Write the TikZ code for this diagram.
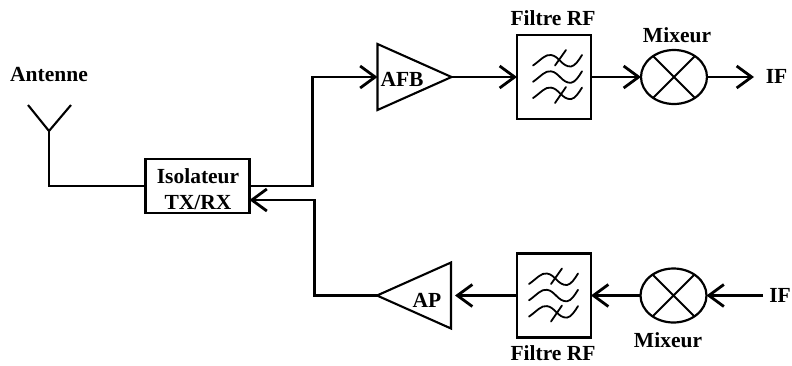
\documentclass[tikz,border=0pt]{standalone}
\usepackage{fontspec}
\setmainfont{Liberation Serif}
\usetikzlibrary{arrows.meta,shapes.geometric}
\tikzset{
  x=1pt,y=-1pt,
  every node/.style={font=\bfseries\fontsize{21.5}{26}\selectfont,inner sep=0pt,outer sep=0pt},
  wire/.style={line width=2.1pt,line join=miter},
  sig/.style={line width=2.8pt,line join=miter},
  arr/.style={sig,-{Straight Barb[length=15pt,width=22pt,line width=2.8pt]}},
  boxs/.style={draw,line width=2.2pt,rectangle,anchor=center},
  ampli/.style={draw,line width=2.1pt,isosceles triangle,isosceles triangle stretches,minimum width=66pt,minimum height=74pt},
  mix/.style={draw,line width=2.2pt,ellipse,minimum width=66pt,minimum height=54pt},
  txt/.style={anchor=center},
  wave/.style={line width=1.8pt,line cap=round},
  filt/.pic={
    \foreach \dy in {0,16.3,32.6}{
      \draw[wave] (-21,-11.5+\dy) .. controls (-13,-17+\dy) and (-9,-23+\dy) .. (-3,-22+\dy)
        .. controls (5,-21+\dy) and (8,-10+\dy) .. (17,-10.5+\dy)
        .. controls (21,-11+\dy) and (25,-17+\dy) .. (28,-22+\dy);
    }
    \draw[wave] (1,-11.5) -- (12,-27);
    \draw[wave] (1,26) -- (12,10);
  }
}
\begin{document}
\begin{tikzpicture}
\useasboundingbox (0,0) rectangle (792,365);
% antenna
\coordinate (antL) at (28,105);
\coordinate (antR) at (71,105);
\coordinate (antJ) at (49,131);
\coordinate (antB) at (49,186);
\node[txt] (antlabel) at (49,75) {Antenne};
% isolator
\node[boxs,minimum width=104pt,minimum height=54pt] (iso) at (197.5,186) {};
\node[txt,align=center] (isot) at (198,189.5) {Isolateur\\TX/RX};
\coordinate (isoIn) at (iso.west);
\coordinate (isoUp) at (iso.east);
\coordinate (isoLow) at ([yshift=-14pt]iso.east);
% upper chain
\node[ampli,anchor=apex] (afb) at (451.5,77) {};
\node[txt] (afbt) at (402,79) {AFB};
\node[boxs,minimum width=74pt,minimum height=84pt] (f1) at (554,77) {};
\pic at (f1.center) {filt};
\node[txt] (f1t) at (553,18) {Filtre RF};
\node[mix] (m1) at (674,77) {};
\node[txt] (m1t) at (677,35) {Mixeur};
\node[txt] (if1) at (776.5,76) {IF};
\coordinate (if1e) at (754,77);
\coordinate (c1) at (312.5,186);
\coordinate (c2) at (312.5,77);
% lower chain
\node[ampli,shape border rotate=180,anchor=apex] (ap) at (377,295.5) {};
\node[txt] (apt) at (427,300) {AP};
\node[boxs,minimum width=74pt,minimum height=84pt] (f2) at (554,295.5) {};
\pic at ([xshift=-4pt,yshift=0pt]f2.center) {filt};
\node[txt] (f2t) at (553,353.5) {Filtre RF};
\node[mix] (m2) at (673.5,295.5) {};
\node[txt] (m2t) at (668,340) {Mixeur};
\node[txt] (if2) at (780,295) {IF};
\coordinate (if2s) at (763,295.5);
\coordinate (c3) at (314.5,295.5);
\coordinate (c4) at (314.5,200);
% crosses
\foreach \m in {m1,m2}{
  \draw[line width=2pt] (\m.45) -- (\m.225) (\m.135) -- (\m.315);
}
% antenna wires
\draw[wire] (antL) -- (antJ) -- (antR);
\draw[wire] (antJ) -- (antB) -- (isoIn);
% connectors upper
\draw[arr] (isoUp) -- (c1) -- (c2) -- (afb.lower side);
\draw[arr] (afb.apex) -- (f1.west);
\draw[arr] (f1.east) -- (m1.west);
\draw[arr] (m1.east) -- (if1e);
% connectors lower
\draw[arr] (if2s) -- (m2.east);
\draw[arr] (m2.west) -- (f2.east);
\draw[arr] (f2.west) -- ([xshift=4pt]ap.lower side);
\draw[arr] (ap.apex) -- (c3) -- (c4) -- (isoLow);
\end{tikzpicture}
\end{document}
